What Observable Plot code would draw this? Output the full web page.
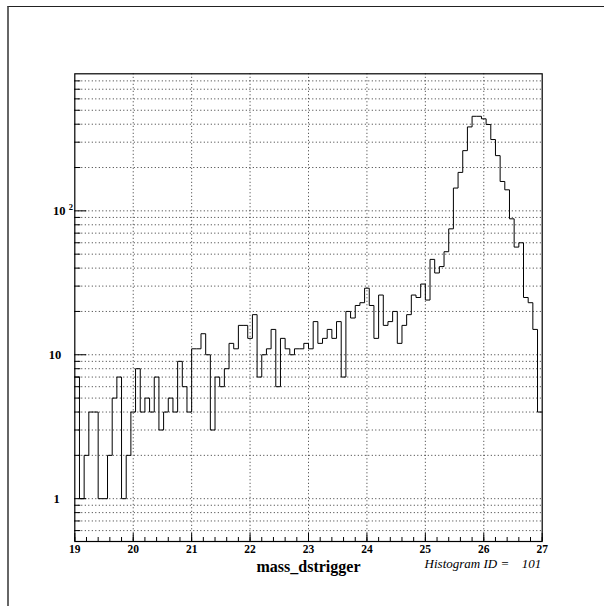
<!DOCTYPE html>
<html>
<head>
<meta charset="utf-8">
<script src="https://cdn.jsdelivr.net/npm/d3@7"></script>
<script src="https://cdn.jsdelivr.net/npm/@observablehq/plot@0.6"></script>
<style>
  html, body { margin: 0; padding: 0; background: #fff; overflow: hidden; }
  #wrap { position: relative; width: 604px; height: 606px; }
  #canvasFrame { position: absolute; left: 7px; top: 6px; width: 620px; height: 620px;
    border-left: 2px solid #666; border-top: 1.5px solid #222; pointer-events: none; }
</style>
</head>
<body>
<div id="wrap"><div id="canvasFrame"></div></div>
<script>
// Histogram: mass_dstrigger, 100 bins from 19 to 27
const xRange = [19, 27];
const binCounts = [
  7, 1, 2, 4, 4, 1, 1, 2, 5, 7,
  1, 2, 4, 8, 4, 5, 4, 7, 3, 4,
  5, 4, 9, 6, 4, 11, 11, 14, 10, 3,
  7, 6, 8, 12, 11, 16, 16, 13, 19, 7,
  10, 11, 15, 6, 13, 11, 10, 11, 11, 12,
  11, 17, 12, 13, 15, 13, 17, 7, 20, 18,
  22, 23, 29, 22, 13, 26, 16, 17, 20, 12,
  16, 19, 26, 25, 31, 24, 46, 37, 41, 52,
  75, 144, 185, 262, 383, 454, 454, 436, 398, 313,
  242, 160, 140, 88, 56, 60, 25, 23, 15, 4
];
const yDomain = [0.504, 896];
const xMajorTicks = [19, 20, 21, 22, 23, 24, 25, 26, 27];
const xMinorTicks = d3.range(19, 27.001, 0.2);
const yMajorTicks = [1, 10, 100];
const yMinorTicks = [0.6, 0.7, 0.8, 0.9, 2, 3, 4, 5, 6, 7, 8, 9,
  20, 30, 40, 50, 60, 70, 80, 90, 200, 300, 400, 500, 600, 700, 800];
const xLabel = "mass_dstrigger";
const idLabel = "Histogram ID =";
const idValue = "101";

const binWidth = (xRange[1] - xRange[0]) / binCounts.length;
const steps = binCounts.map((v, i) => ({x: xRange[0] + i * binWidth, y: v}));
steps.push({x: xRange[1], y: binCounts[binCounts.length - 1]});

const serif = "'Liberation Serif', 'DejaVu Serif', serif";
const dots = {stroke: "#333", strokeDasharray: "1,2.5", strokeWidth: 1};
const blank = () => "";

const chart = Plot.plot({
  width: 604,
  height: 606,
  marginLeft: 74.3,
  marginRight: 62.3,
  marginTop: 73.3,
  marginBottom: 65,
  style: {fontFamily: serif, background: "transparent", overflow: "visible"},
  x: {domain: xRange, axis: null},
  y: {type: "log", domain: yDomain, axis: null},
  marks: [
    Plot.ruleY([...yMajorTicks, ...yMinorTicks], dots),
    Plot.ruleX(xMajorTicks.slice(1, -1), dots),
    Plot.axisY(yMajorTicks, {anchor: "left", tickSize: -12, tickFormat: blank, label: null}),
    Plot.axisY(yMinorTicks, {anchor: "left", tickSize: -6, tickFormat: blank, label: null}),
    Plot.axisX(xMajorTicks, {anchor: "bottom", tickSize: -8, tickFormat: blank, label: null}),
    Plot.axisX(xMinorTicks, {anchor: "bottom", tickSize: -4, tickFormat: blank, label: null}),
    Plot.line(steps, {x: "x", y: "y", curve: "step-after", stroke: "#000", strokeWidth: 1}),
    Plot.frame({stroke: "#000", strokeWidth: 1.2}),
    // y labels
    Plot.text([1], {y: d => d, text: ["1"], frameAnchor: "left", dx: -15, textAnchor: "end",
      fontSize: 12.5, fontWeight: "bold"}),
    Plot.text([10], {y: d => d, text: ["10"], frameAnchor: "left", dx: -13.6, textAnchor: "end",
      fontSize: 12.5, fontWeight: "bold"}),
    Plot.text([100], {y: d => d, text: ["10"], frameAnchor: "left", dx: -9.3, textAnchor: "end",
      fontSize: 12.5, fontWeight: "bold"}),
    Plot.text([100], {y: d => d, text: ["2"], frameAnchor: "left", dx: -6, dy: -4, textAnchor: "start",
      fontSize: 8.5, fontWeight: "bold"}),
    // x labels
    Plot.text(xMajorTicks, {x: d => d, text: d => String(d), frameAnchor: "bottom", dy: 11.5,
      fontSize: 11.5, fontWeight: "bold"}),
    Plot.text([xLabel], {text: d => d, frameAnchor: "bottom", dy: 30.5, fontSize: 16, fontWeight: "bold"}),
    Plot.text([idLabel], {text: d => d, frameAnchor: "bottom-right", dx: -33, dy: 26.5, textAnchor: "end",
      fontSize: 13, fontStyle: "italic"}),
    Plot.text([idValue], {text: d => d, frameAnchor: "bottom-right", dx: -1, dy: 26.5, textAnchor: "end",
      fontSize: 13, fontStyle: "italic"})
  ]
});
chart.style.position = "absolute";
chart.style.left = "0px";
chart.style.top = "0px";
document.getElementById("wrap").prepend(chart);
</script>
</body>
</html>
